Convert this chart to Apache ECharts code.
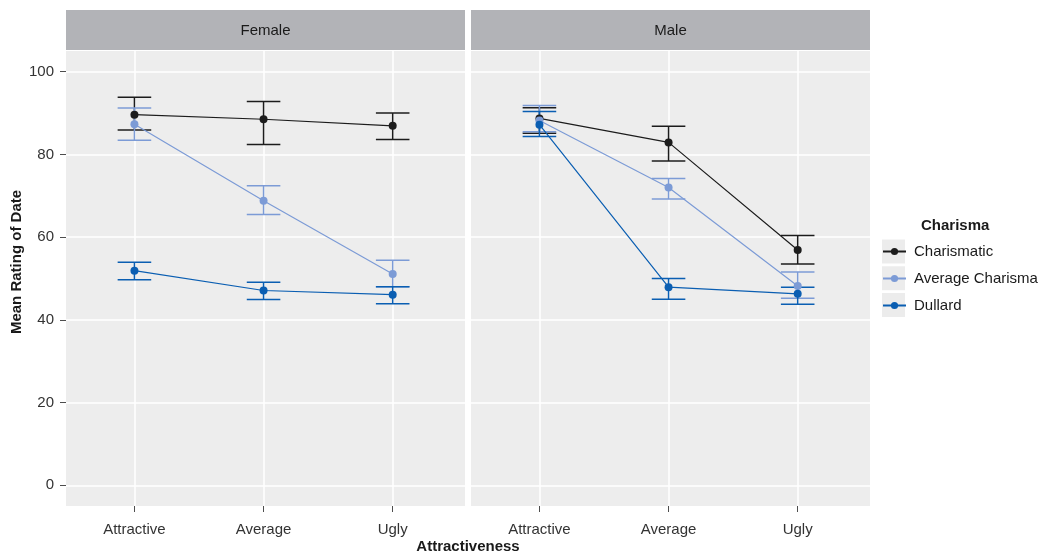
<!DOCTYPE html>
<html>
<head>
<meta charset="utf-8">
<script src="https://cdn.jsdelivr.net/npm/echarts@6/dist/echarts.min.js"></script>
<style>
  html, body { margin: 0; padding: 0; background: #fff; }
  #chart { width: 1047px; height: 555px; }
</style>
</head>
<body>
<div id="chart"></div>
<script>
// categories on the x axis (positions 1, 2, 3)
const categories = ['Attractive', 'Average', 'Ugly'];
const panels = ['Female', 'Male'];
const groups = ['Charismatic', 'Average Charisma', 'Dullard'];
const colors = ['#1c1c1c', '#7c9bd6', '#0a5eb2'];

// Female panel: mean and error bar bounds
const femaleCharismatic = [89.6, 88.5, 86.9];
const femaleCharismaticLow = [85.9, 82.4, 83.6];
const femaleCharismaticHigh = [93.8, 92.8, 90.0];
const femaleAverage = [87.3, 68.8, 51.1];
const femaleAverageLow = [83.4, 65.5, 48.0];
const femaleAverageHigh = [91.2, 72.4, 54.4];
const femaleDullard = [51.9, 47.1, 46.1];
const femaleDullardLow = [49.7, 44.9, 43.9];
const femaleDullardHigh = [53.9, 49.1, 48.0];

// Male panel
const maleCharismatic = [88.7, 82.9, 56.9];
const maleCharismaticLow = [85.1, 78.4, 53.5];
const maleCharismaticHigh = [91.3, 86.8, 60.4];
const maleAverage = [88.2, 72.0, 48.2];
const maleAverageLow = [85.5, 69.2, 45.2];
const maleAverageHigh = [91.8, 74.2, 51.6];
const maleDullard = [87.2, 47.9, 46.3];
const maleDullardLow = [84.3, 45.0, 43.8];
const maleDullardHigh = [90.4, 50.0, 47.9];

const yTicks = [0, 20, 40, 60, 80, 100];

const panelData = [
  [
    [femaleCharismatic, femaleCharismaticLow, femaleCharismaticHigh],
    [femaleAverage, femaleAverageLow, femaleAverageHigh],
    [femaleDullard, femaleDullardLow, femaleDullardHigh]
  ],
  [
    [maleCharismatic, maleCharismaticLow, maleCharismaticHigh],
    [maleAverage, maleAverageLow, maleAverageHigh],
    [maleDullard, maleDullardLow, maleDullardHigh]
  ]
];

const FONT = 'Liberation Sans';
const xPos = categories.map((c, i) => i + 1);

const grids = [
  { left: 66, top: 51, width: 399, height: 455 },
  { left: 471, top: 51, width: 399, height: 455 }
].map(g => Object.assign(g, { show: true, backgroundColor: '#ededed', borderWidth: 0 }));

const xAxes = grids.map((g, i) => ({
  type: 'value',
  gridIndex: i,
  position: 'bottom',
  min: 0.47,
  max: 3.56,
  axisLine: { show: false, onZero: false },
  axisTick: { show: true, length: 6, customValues: xPos, lineStyle: { color: '#4d4d4d' } },
  axisLabel: {
    customValues: xPos,
    margin: 16,
    color: '#333',
    fontFamily: FONT,
    fontSize: 15,
    formatter: v => categories[Math.round(v) - 1] || ''
  },
  splitLine: { show: true, lineStyle: { color: '#ffffff', width: 1.5 } }
}));

const yAxes = grids.map((g, i) => ({
  type: 'value',
  gridIndex: i,
  position: 'left',
  min: -5,
  max: 105,
  axisLine: { show: false, onZero: false },
  axisTick: { show: i === 0, length: 6, customValues: yTicks, lineStyle: { color: '#4d4d4d' } },
  axisLabel: {
    show: i === 0,
    customValues: yTicks,
    margin: 12,
    color: '#333',
    fontFamily: FONT,
    fontSize: 15
  },
  splitLine: { show: true, lineStyle: { color: '#ffffff', width: 1.5 } }
}));

const series = [];
// lines with points
panelData.forEach((pd, p) => {
  pd.forEach((gd, g) => {
    series.push({
      name: groups[g],
      type: 'line',
      xAxisIndex: p,
      yAxisIndex: p,
      z: 4,
      data: gd[0].map((v, k) => [xPos[k], v]),
      symbol: 'circle',
      symbolSize: 8,
      itemStyle: { color: colors[g] },
      lineStyle: { color: colors[g], width: 1.2 },
      emphasis: { disabled: true },
      animation: false
    });
  });
});
// error bars
panelData.forEach((pd, p) => {
  pd.forEach((gd, g) => {
    series.push({
      name: groups[g],
      type: 'custom',
      xAxisIndex: p,
      yAxisIndex: p,
      z: 3,
      data: gd[0].map((v, k) => [xPos[k], gd[1][k], gd[2][k]]),
      renderItem: (params, api) => {
        const x = api.value(0);
        const top = api.coord([x, api.value(2)]);
        const bot = api.coord([x, api.value(1)]);
        const hw = api.size([0.13, 0])[0];
        const style = { stroke: colors[g], lineWidth: 1.5, fill: null };
        return {
          type: 'group',
          children: [
            { type: 'line', shape: { x1: top[0], y1: top[1], x2: bot[0], y2: bot[1] }, style },
            { type: 'line', shape: { x1: top[0] - hw, y1: top[1], x2: top[0] + hw, y2: top[1] }, style },
            { type: 'line', shape: { x1: bot[0] - hw, y1: bot[1], x2: bot[0] + hw, y2: bot[1] }, style }
          ]
        };
      },
      animation: false
    });
  });
});

const graphic = [];
// facet strips
grids.forEach((g, i) => {
  graphic.push({
    type: 'rect',
    shape: { x: g.left, y: 10, width: g.width, height: 40 },
    style: { fill: '#b2b3b7' }
  });
  graphic.push({
    type: 'text',
    x: g.left + g.width / 2,
    y: 31,
    style: {
      text: panels[i], fill: '#1a1a1a', font: '15px "' + FONT + '"',
      align: 'center', verticalAlign: 'middle'
    }
  });
});
// axis titles
graphic.push({
  type: 'text', x: 468, y: 547,
  style: { text: 'Attractiveness', fill: '#1a1a1a', font: 'bold 15px "' + FONT + '"', align: 'center', verticalAlign: 'middle' }
});
graphic.push({
  type: 'text', x: 17, y: 262, rotation: Math.PI / 2,
  style: { text: 'Mean Rating of Date', fill: '#1a1a1a', font: 'bold 15px "' + FONT + '"', align: 'center', verticalAlign: 'middle' }
});
// legend title and key backgrounds
graphic.push({
  type: 'text', x: 921, y: 226,
  style: { text: 'Charisma', fill: '#1a1a1a', font: 'bold 15px "' + FONT + '"', align: 'left', verticalAlign: 'middle' }
});
groups.forEach((name, i) => {
  graphic.push({
    type: 'rect',
    shape: { x: 882, y: 239.5 + i * 26.75, width: 23, height: 24 },
    style: { fill: '#ececec' }
  });
});

const chart = echarts.init(document.getElementById('chart'));
chart.setOption({
  animation: false,
  grid: grids,
  xAxis: xAxes,
  yAxis: yAxes,
  legend: {
    orient: 'vertical',
    left: 882,
    top: 244,
    padding: 0,
    data: groups,
    itemWidth: 23,
    itemHeight: 9,
    itemGap: 12,
    selectedMode: false,
    textStyle: { fontFamily: FONT, fontSize: 15, color: '#1a1a1a', padding: [0, 0, 0, 3] }
  },
  graphic: graphic,
  series: series
});
</script>
</body>
</html>
